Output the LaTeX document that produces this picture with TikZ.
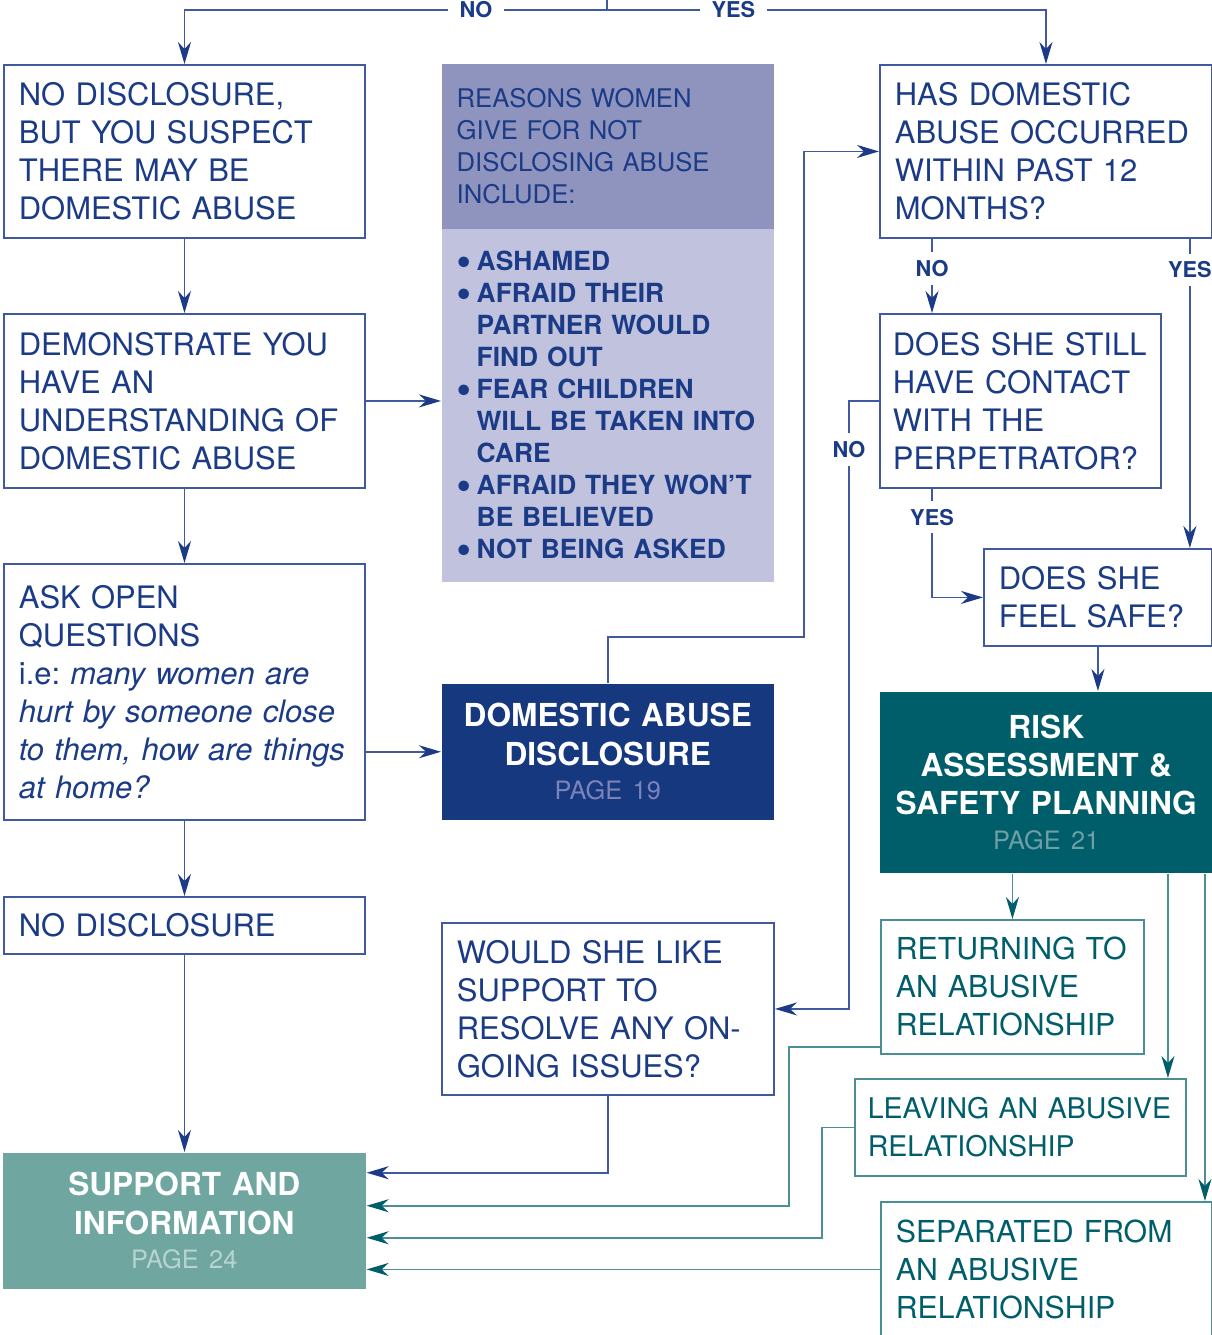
\documentclass[tikz,border=0pt]{standalone}
\usepackage{fontspec}
\setmainfont{TeX Gyre Heros}
\usetikzlibrary{arrows.meta}
\definecolor{dblue}{HTML}{1B3B86}
\definecolor{bline}{HTML}{41599E}
\definecolor{lavd}{HTML}{8F94BF}
\definecolor{lavl}{HTML}{C0C2DE}
\definecolor{dfill}{HTML}{15387F}
\definecolor{dpage}{HTML}{7B83B8}
\definecolor{tdark}{HTML}{005E6B}
\definecolor{tline}{HTML}{4B8E96}
\definecolor{tpage}{HTML}{6F9FA6}
\definecolor{sfill}{HTML}{6FA7A0}
\definecolor{spage}{HTML}{B8D4D0}
\newcommand{\bul}{\makebox[0.2cm][l]{\raisebox{0.1em}{$\bullet$}}}
\newcommand{\pagetxt}[2]{\\[-0.04cm]{\fontsize{7.2}{11}\selectfont\mdseries\color{#1}#2}}
\begin{document}
\begin{tikzpicture}[x=0.01cm,y=-0.01cm,
  qbox/.style={draw=bline,line width=0.5pt,text=dblue,anchor=north west,inner xsep=0.15cm,inner ysep=0pt,align=left,font=\fontsize{8.8}{10.8}\selectfont},
  tbox/.style={qbox,draw=tline,text=tdark,font=\fontsize{8.6}{10.8}\selectfont},
  hbox/.style={anchor=north west,inner xsep=0.08cm,inner ysep=0pt,align=center,text=white,font=\fontsize{9}{10.9}\selectfont\bfseries},
  rbox/.style={anchor=north west,inner xsep=0.15cm,inner ysep=0pt,align=left,text=dblue,text width=3.02cm},
  barr/.style={draw=bline,line width=0.5pt,-{Stealth[length=0.22cm,width=0.13cm,inset=0.07cm,color=dblue]}},
  tarr/.style={draw=tline,line width=0.5pt,-{Stealth[length=0.22cm,width=0.13cm,inset=0.07cm,color=tdark]}},
  lbl/.style={fill=white,text=dblue,inner xsep=0.12cm,inner ysep=0.08cm,font=\fontsize{6.2}{7}\selectfont\bfseries}]
\useasboundingbox (0,0) rectangle (1212,1335);
\coordinate (top) at (607,0);
\coordinate (fork) at (607,10);
\node[qbox,text width=3.31cm,minimum height=1.73cm] (nsus) at (3,64) {NO DISCLOSURE,\\ BUT YOU SUSPECT\\ THERE MAY BE\\ DOMESTIC ABUSE};
\node[qbox,text width=3.31cm,minimum height=1.74cm] (demo) at (3,313) {DEMONSTRATE YOU\\ HAVE AN\\ UNDERSTANDING OF\\ DOMESTIC ABUSE};
\node[qbox,text width=3.31cm,minimum height=2.56cm] (askq) at (3,563) {ASK OPEN\\ QUESTIONS\\ i.e:\ \textit{many women are}\\ \textit{hurt by someone close}\\ \textit{to them, how are things}\\ \textit{at home?}};
\node[qbox,text width=3.31cm,minimum height=0.57cm] (nodis) at (3,896) {NO DISCLOSURE};
\node[hbox,fill=sfill,text width=3.47cm,minimum height=1.36cm] (supp) at (2,1152) {SUPPORT AND\\ INFORMATION\pagetxt{spage}{PAGE 24}};
\node[rbox,fill=lavd,minimum height=1.65cm,font=\fontsize{7.3}{9.1}\selectfont] (rhead) at (441,63) {REASONS WOMEN\\ GIVE FOR NOT\\ DISCLOSING ABUSE\\ INCLUDE:};
\node[rbox,fill=lavl,minimum height=3.53cm,font=\fontsize{7.5}{9.1}\selectfont\bfseries] (rbody) at (441,228) {\bul ASHAMED\\ \bul AFRAID THEIR\\ \phantom{\bul}PARTNER WOULD\\ \phantom{\bul}FIND OUT\\ \bul FEAR CHILDREN\\ \phantom{\bul}WILL BE TAKEN INTO\\ \phantom{\bul}CARE\\ \bul AFRAID THEY WON’T\\ \phantom{\bul}BE BELIEVED\\ \bul NOT BEING ASKED};
\node[hbox,fill=dfill,text width=3.16cm,minimum height=1.36cm] (dad) at (441,683) {DOMESTIC ABUSE\\ DISCLOSURE\pagetxt{dpage}{PAGE 19}};
\node[qbox,text width=3.02cm,minimum height=1.72cm] (would) at (441,922) {WOULD SHE LIKE\\ SUPPORT TO\\ RESOLVE ANY ON-\\ GOING ISSUES?};
\node[qbox,text width=3.02cm,minimum height=1.73cm] (hda) at (879,64) {HAS DOMESTIC\\ ABUSE OCCURRED\\ WITHIN PAST 12\\ MONTHS?};
\node[qbox,text width=2.55cm,inner xsep=0.13cm,minimum height=1.74cm] (cont) at (879,313) {DOES SHE STILL\\ HAVE CONTACT\\ WITH THE\\ PERPETRATOR?};
\node[qbox,text width=1.98cm,minimum height=0.97cm] (safe) at (983,548) {DOES SHE\\ FEEL SAFE?};
\node[hbox,fill=tdark,text width=3.17cm,minimum height=1.81cm] (risk) at (879,691) {RISK\\ ASSESSMENT \&\\ SAFETY PLANNING\pagetxt{tpage}{PAGE 21}};
\node[tbox,text width=2.33cm,minimum height=1.34cm] (ret) at (880,919) {RETURNING TO\\ AN ABUSIVE\\ RELATIONSHIP};
\node[tbox,text width=3.05cm,inner xsep=0.13cm,minimum height=0.97cm,font=\fontsize{8.1}{10.8}\selectfont] (leave) at (854,1078) {LEAVING AN ABUSIVE\\ RELATIONSHIP};
\node[tbox,text width=3.01cm,minimum height=1.35cm] (sep) at (880,1201) {SEPARATED FROM\\ AN ABUSIVE\\ RELATIONSHIP};
\draw[draw=bline,line width=0.5pt] (top) -- (fork);
\draw[barr] (fork) -| node[lbl,pos=0.155]{NO} (nsus.north);
\draw[barr] (fork) -| node[lbl,pos=0.144]{YES} (hda.north);
\foreach \a/\b in {nsus/demo,demo/askq,askq/nodis,nodis/supp}
	\draw[barr] (\a.south) -- (\a.south |- \b.north);
\draw[barr] (demo.east) -- (demo.east -| rbody.west);
\draw[barr] (askq.east |- dad.west) -- (dad.west);
\draw[barr] (dad.north) |- ++(196,-46) |- (hda.west);
\draw[barr] ([xshift=0.53cm]hda.south west) -- node[lbl,pos=0.4]{NO} ([xshift=0.53cm]cont.north west);
\draw[barr] ([xshift=-0.23cm]hda.south east) -- node[lbl,pos=0.1]{YES} ([xshift=-0.23cm]safe.north east);
\draw[barr] (cont.west) -- ++(-30,0) |- node[lbl,pos=0.04]{NO} (would.east);
\draw[barr] ([xshift=0.53cm]cont.south west) |- node[lbl,pos=0.13]{YES} (safe.west);
\draw[barr] (safe.south) -- (safe.south |- risk.north);
\draw[barr] (would.south) |- ([yshift=0.48cm]supp.east);
\draw[tarr] (risk.south -| ret.north) -- (ret.north);
\draw[tarr] ([xshift=-0.19cm]leave.north east |- risk.south) -- ([xshift=-0.19cm]leave.north east);
\draw[tarr] ([xshift=-0.08cm]sep.north east |- risk.south) -- ([xshift=-0.08cm]sep.north east);
\draw[tarr] ([yshift=-0.6cm]ret.west) -- ++(-91,0) |- ([yshift=0.15cm]supp.east);
\draw[tarr] (leave.west) -- ++(-32,0) |- ([yshift=-0.17cm]supp.east);
\draw[tarr] (sep.west) -- (sep.west -| supp.east);
\end{tikzpicture}
\end{document}
